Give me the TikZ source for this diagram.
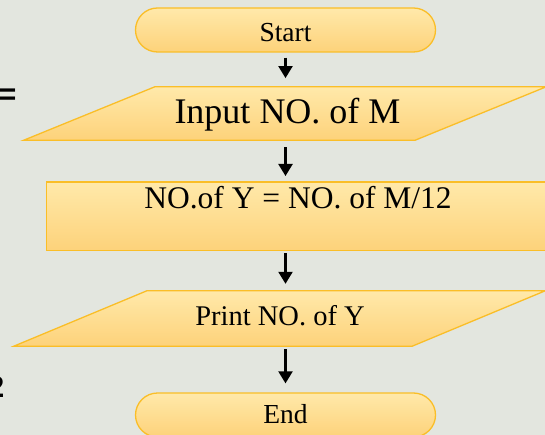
\documentclass[tikz,border=0pt]{standalone}
\usepackage{fontspec}
\setmainfont{Liberation Serif}
\newfontfamily\sidefont{Liberation Sans}
\usetikzlibrary{arrows.meta}

\definecolor{slidebg}{RGB}{227,230,223}
\definecolor{boxtop}{RGB}{255,233,170}
\definecolor{boxbot}{RGB}{253,210,122}
\definecolor{boxline}{RGB}{250,190,40}

\tikzset{
  boxfill/.style={top color=boxtop, bottom color=boxbot, draw=boxline, line width=1.3pt},
  terminal/.style={boxfill, rectangle, rounded corners=22pt, minimum width=300pt,
    minimum height=44pt, inner sep=0pt},
  iobox/.style={rectangle, inner sep=0pt, minimum height=#1},
  procbox/.style={boxfill, rectangle, inner sep=0pt, anchor=north west},
  label text/.style={inner sep=0pt, anchor=base},
  flow/.style={line width=2.2pt, -{Triangle[width=14pt,length=12pt]}},
  sidetext/.style={inner sep=0pt, anchor=base east, text=black,
    font=\sidefont\bfseries\fontsize{30}{30}\selectfont}
}

\begin{document}
\begin{tikzpicture}[x=1pt,y=-1pt]
  % page and background
  \fill[slidebg] (0,0) rectangle (545,435);
  \useasboundingbox (0,0) rectangle (545,435);

  % pieces of slide text at the left border
  \node[sidetext] (eqsign) at (16.5,104.5) {=};
  \node[sidetext] (two) at (4.5,397.5) {2};

  % start terminal
  \node[terminal] (start) at (285.5,30) {};
  \node[label text, font=\fontsize{27.5}{27.5}\selectfont] (starttext) at (285.5,41.7) {Start};

  % input parallelogram
  \node[iobox=53pt, minimum width=391pt] (input) at (285,113.5) {};
  \path[boxfill] ([xshift=-65.5pt]input.south west) -- ([xshift=65.5pt]input.north west)
    -- ([xshift=65.5pt]input.north east) -- ([xshift=-65.5pt]input.south east) -- cycle;
  \node[label text, font=\fontsize{36}{36}\selectfont] (inputtext) at (287.5,123.3) {Input NO. of M};

  % process box
  \node[procbox, minimum width=530pt, minimum height=68.5pt] (calc) at (46,181.5) {};
  \node[label text, font=\fontsize{31.5}{31.5}\selectfont] (calctext) at (298,208.3) {NO.of Y = NO. of M/12};

  % output parallelogram
  \node[iobox=55pt, minimum width=398pt] (print) at (279.5,318.5) {};
  \path[boxfill] ([xshift=-66.5pt]print.south west) -- ([xshift=66.5pt]print.north west)
    -- ([xshift=66.5pt]print.north east) -- ([xshift=-66.5pt]print.south east) -- cycle;
  \node[label text, font=\fontsize{28.5}{28.5}\selectfont] (printtext) at (280,325) {Print NO. of Y};

  % end terminal
  \node[terminal] (end) at (285.5,415) {};
  \node[label text, font=\fontsize{27.5}{27.5}\selectfont] (endtext) at (285.5,423.3) {End};

  % connectors
  \draw[flow, shorten <=5pt, shorten >=8.7pt] (start.south) -- (start.south |- input.north);
  \draw[flow, shorten <=7.3pt, shorten >=5.5pt] (input.south -| start.south) -- (calc.north -| start.south);
  \draw[flow, shorten <=2pt, shorten >=7pt] (calc.south -| start.south) -- (print.north -| start.south);
  \draw[flow, shorten <=3pt, shorten >=9pt] (print.south -| start.south) -- (end.north);
\end{tikzpicture}
\end{document}
